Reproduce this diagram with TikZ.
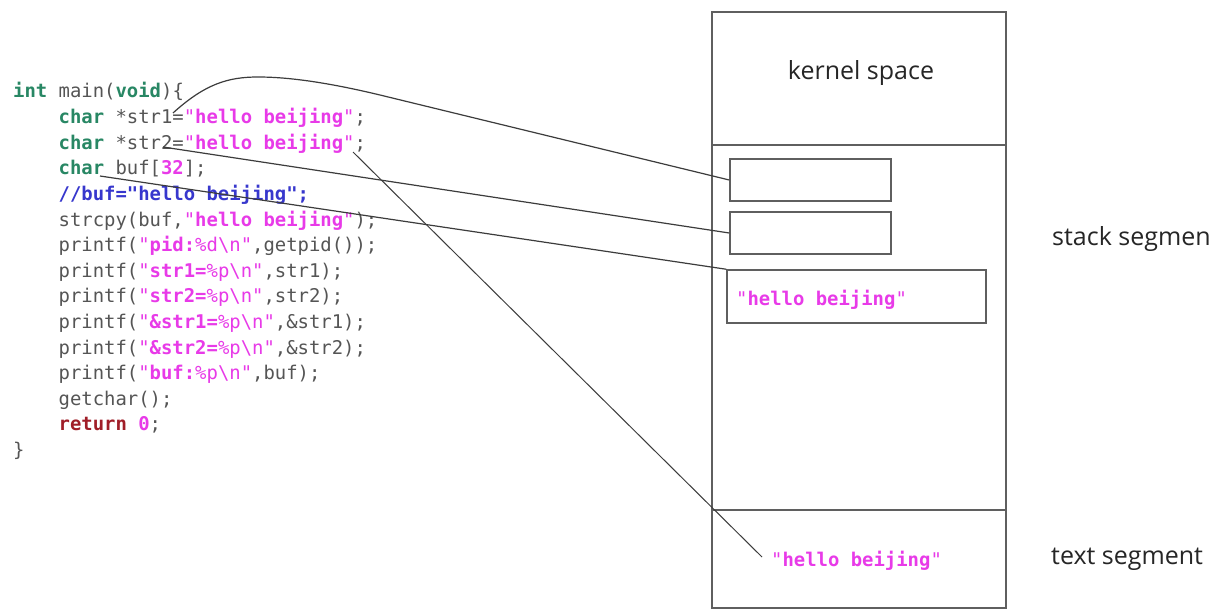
\documentclass[tikz,border=0pt]{standalone}
\usepackage{fontspec}
\newfontfamily\codefont{DejaVu Sans Mono}
\newfontfamily\labfont{Open Sans}
\definecolor{kwc}{RGB}{40,135,100}
\definecolor{stc}{RGB}{232,58,232}
\definecolor{cmc}{RGB}{55,55,205}
\definecolor{plc}{RGB}{85,85,85}
\definecolor{rwc}{RGB}{160,30,40}
\definecolor{lnc}{RGB}{60,60,60}
\definecolor{bxc}{RGB}{95,95,95}
\newcommand\kw[1]{\textcolor{kwc}{\bfseries #1}}
\newcommand\st[1]{\textcolor{stc}{\bfseries #1}}
\newcommand\es[1]{\textcolor{stc}{#1}}
\newcommand\cm[1]{\textcolor{cmc}{\bfseries #1}}
\newcommand\rw[1]{\textcolor{rwc}{\bfseries #1}}
\newcommand\bs{\textbackslash}
\begin{document}
\begin{tikzpicture}[x=1pt,y=-1pt,
  code/.style={anchor=base west, inner sep=0pt, font=\codefont\fontsize{18.9}{22}\selectfont, text=plc},
  memtext/.style={anchor=base west, inner sep=0pt, font=\codefont\fontsize{18.9}{22}\selectfont},
  lab/.style={inner sep=0pt, font=\labfont\fontsize{25}{30}\selectfont, text=black!85},
  cell/.style={draw=bxc, line width=1.5pt, inner sep=0pt},
  frame/.style={draw=bxc, line width=1.3pt},
  conn/.style={draw=lnc, line width=1.2pt}]
\useasboundingbox (0,0) rectangle (1215,615);
\fill[white] (0,0) rectangle (1215,615);

% code
\node[code] (c1)  at (13,98)     {\kw{int} main(\kw{void})\{};
\node[code] (c2)  at (58.5,123.6) {\kw{char} *str1=\es{"}\st{hello beijing}\es{"};};
\node[code] (c3)  at (58.5,149.2) {\kw{char} *str2=\es{"}\st{hello beijing}\es{"};};
\node[code] (c4)  at (58.5,174.8) {\kw{char} buf[\st{32}];};
\node[code] (c5)  at (58.5,200.4) {\cm{//buf="hello beijing";}};
\node[code] (c6)  at (58.5,226)   {strcpy(buf,\es{"}\st{hello beijing}\es{"});};
\node[code] (c7)  at (58.5,251.6) {printf(\es{"}\st{pid:}\es{\%d\bs n"},getpid());};
\node[code] (c8)  at (58.5,277.2) {printf(\es{"}\st{str1=}\es{\%p\bs n"},str1);};
\node[code] (c9)  at (58.5,302.8) {printf(\es{"}\st{str2=}\es{\%p\bs n"},str2);};
\node[code] (c10) at (58.5,328.4) {printf(\es{"}\st{\&str1=}\es{\%p\bs n"},\&str1);};
\node[code] (c11) at (58.5,354)   {printf(\es{"}\st{\&str2=}\es{\%p\bs n"},\&str2);};
\node[code] (c12) at (58.5,379.6) {printf(\es{"}\st{buf:}\es{\%p\bs n"},buf);};
\node[code] (c13) at (58.5,405.2) {getchar();};
\node[code] (c14) at (58.5,430.8) {\rw{return} \st{0};};
\node[code] (c15) at (13,456.4)   {\}};

% memory layout
\draw[frame] (712,12) rectangle (1006,608);
\draw[frame] (712,145) -- (1006,145);
\draw[frame] (712,510) -- (1006,510);
\node[lab, anchor=base] (ks) at (861,80) {kernel space};
\node[lab, anchor=base west] (ss) at (1052,245) {stack segmen};
\node[lab, anchor=base west] (ts) at (1051,564) {text segment};

\node[cell, minimum width=161pt, minimum height=42pt] (b1) at (810.5,180) {};
\node[cell, minimum width=161pt, minimum height=42pt] (b2) at (810.5,233) {};
\node[cell, minimum width=259pt, minimum height=53pt] (b3) at (856.5,296.5) {};
\node[memtext] (t3) at (736,305) {\es{"}\st{hello beijing}\es{"}};
\node[memtext] (tx) at (771,566) {\es{"}\st{hello beijing}\es{"}};

% connector anchors
\coordinate (s1) at (173,113);
\coordinate (s2) at (163,147);
\coordinate (sb) at (100,176);
\coordinate (q2) at (353,152);
\coordinate (te) at (762,557);

\draw[conn] (s1) .. controls (205,84) and (228,77) .. (258,77)
  .. controls (290,77) and (330,83) .. (380,95) -- (b1.west);
\draw[conn] (s2) -- (b2.west);
\draw[conn] (sb) -- (b3.north west);
\draw[conn, line width=1pt] (q2) -- (te);
\end{tikzpicture}
\end{document}
